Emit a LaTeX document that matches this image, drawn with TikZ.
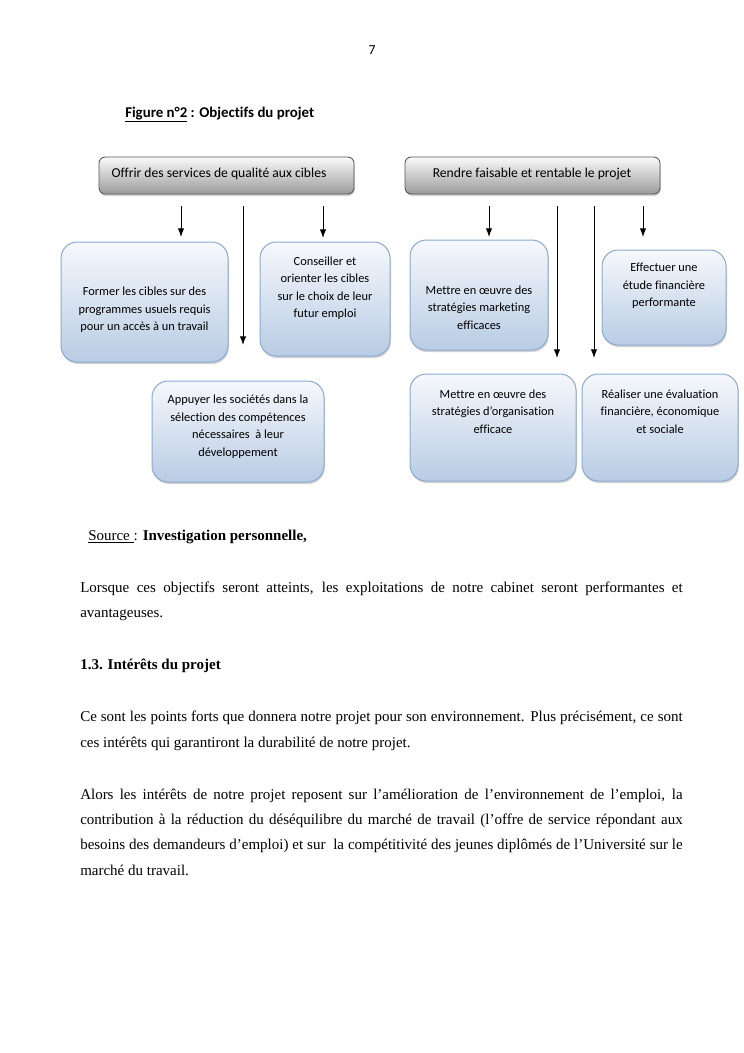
\documentclass[tikz,border=0pt]{standalone}
\usepackage{fontspec}
\setmainfont{Liberation Serif}
\newfontfamily\calib[Ligatures=NoCommon]{Carlito}
\usetikzlibrary{arrows.meta,shadows}
\definecolor{bboxdraw}{RGB}{140,170,208}
\definecolor{bboxtop}{RGB}{246,248,252}
\definecolor{bboxbot}{RGB}{184,204,228}
\definecolor{gboxdraw}{RGB}{85,85,85}
\definecolor{gboxtop}{RGB}{250,250,250}
\definecolor{gboxbot}{RGB}{155,155,155}
\begin{document}
\begin{tikzpicture}[x=0.8pt,y=-0.8pt,
  bluebox/.style={rectangle, rounded corners=13pt, draw=bboxdraw, line width=0.8pt,
    top color=bboxtop, bottom color=bboxbot,
    drop shadow={shadow xshift=0.6pt, shadow yshift=-1.6pt, opacity=0.35}},
  graybox/.style={rectangle, rounded corners=5pt, draw=gboxdraw, line width=0.7pt,
    top color=gboxtop, bottom color=gboxbot,
    drop shadow={shadow xshift=0.6pt, shadow yshift=-1.6pt, opacity=0.35}},
  boxtext/.style={font=\calib\fontsize{9.9}{14}\selectfont, align=center, inner sep=0pt},
  headtext/.style={font=\calib\fontsize{10.9}{12}\selectfont, inner sep=0pt},
  body/.style={font=\fontsize{12}{14}\selectfont, anchor=base west, inner sep=0pt},
  arr/.style={-{Latex[length=7pt,width=5.2pt]}, line width=0.8pt}
]
\useasboundingbox (0,0) rectangle (744,1053);
\fill[white] (0,0) rectangle (744,1053);

% page number and title
\node[font=\calib\fontsize{11}{12}\selectfont, anchor=base, inner sep=0pt] (pnum) at (372,54) {7};
\node[font=\calib\bfseries\fontsize{11.9}{13}\selectfont, anchor=base west, inner sep=0pt] (title) at (125,117) {\underline{Figure n°2} : Objectifs du projet};

% header boxes
\node[graybox, minimum width=204pt, minimum height=29.6pt] (h1) at (226.5,175.5) {};
\node[headtext] (h1t) at (219,174) {Offrir des services de qualité aux cibles};
\node[graybox, minimum width=204pt, minimum height=29.6pt] (h2) at (532.5,175.5) {};
\node[headtext] (h2t) at (532,174) {Rendre faisable et rentable le projet};

% blue boxes
\node[bluebox, minimum width=133.6pt, minimum height=96pt] (A) at (144.5,302) {};
\node[boxtext] (At) at (144.5,310) {Former les cibles sur des\\programmes usuels requis\\pour un accès à un travail};

\node[bluebox, minimum width=104pt, minimum height=91.2pt] (B) at (325,299) {};
\node[boxtext] (Bt) at (325,288) {Conseiller et\\orienter les cibles\\sur le choix de leur\\futur emploi};

\node[bluebox, minimum width=137.6pt, minimum height=80.8pt] (C) at (238,431.5) {};
\node[boxtext] (Ct) at (238,426.5) {Appuyer les sociétés dans la\\sélection des compétences\\nécessaires\ \ à leur\\développement};

\node[bluebox, minimum width=110.4pt, minimum height=88pt] (D) at (479,295) {};
\node[boxtext] (Dt) at (479,307.5) {Mettre en œuvre des\\stratégies marketing\\efficaces};

\node[bluebox, minimum width=99.2pt, minimum height=76pt] (E) at (664,297.5) {};
\node[boxtext] (Et) at (664,286) {Effectuer une\\étude financière\\performante};

\node[bluebox, minimum width=132.8pt, minimum height=85.6pt] (F) at (493,427.5) {};
\node[boxtext] (Ft) at (493,411.5) {Mettre en œuvre des\\stratégies d’organisation\\efficace};

\node[bluebox, minimum width=124.8pt, minimum height=85.6pt] (G) at (660,427.5) {};
\node[boxtext] (Gt) at (660,411.5) {Réaliser une évaluation\\financière, économique\\et sociale};

% arrows
\foreach \n/\x/\ys/\ye in {a1/181/206/237, a2/243/206/345, a3/323/206/238,
  b1/489/206/237, b2/557/206/358, b3/594/206/358, b4/643/206/237} {
  \coordinate (\n s) at (\x,\ys);
  \coordinate (\n e) at (\x,\ye);
  \draw[arr] (\n s) -- (\n e);
}

% body text
\node[body] (src) at (88,540) {\underline{Source }: \textbf{Investigation personnelle,}};
\node[body] (p1a) at (80,592) {\makebox[482pt][s]{Lorsque ces objectifs seront atteints, les exploitations de notre cabinet seront performantes et}};
\node[body] (p1b) at (80,617) {avantageuses.};
\node[body] (hd) at (80,669) {\textbf{1.3. Intérêts du projet}};
\node[body] (p2a) at (80,721) {\makebox[482pt][s]{Ce sont les points forts que donnera notre projet pour son environnement. Plus précisément, ce sont}};
\node[body] (p2b) at (80,747) {ces intérêts qui garantiront la durabilité de notre projet.};
\node[body] (p3a) at (80,799) {\makebox[482pt][s]{Alors les intérêts de notre projet reposent sur l’amélioration de l’environnement de l’emploi, la}};
\node[body] (p3b) at (80,824) {\makebox[482pt][s]{contribution à la réduction du déséquilibre du marché de travail (l’offre de service répondant aux}};
\node[body] (p3c) at (80,849) {\makebox[482pt][s]{besoins des demandeurs d’emploi) et sur\ \ la compétitivité des jeunes diplômés de l’Université sur le}};
\node[body] (p3d) at (80,875) {marché du travail.};
\end{tikzpicture}
\end{document}
